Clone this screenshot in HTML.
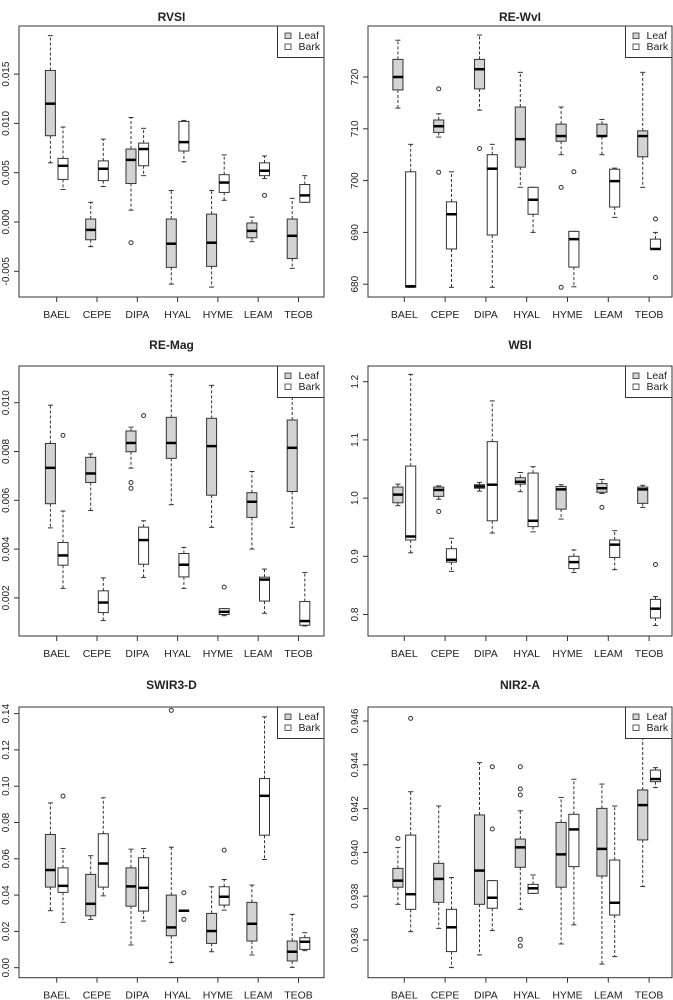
<!DOCTYPE html>
<html><head><meta charset="utf-8"><style>
body{margin:0;background:#fff;}
svg{display:block;font-family:"Liberation Sans",sans-serif;}
</style></head><body>
<svg id="chart" width="673" height="1000" viewBox="0 0 673 1000" xmlns="http://www.w3.org/2000/svg"></svg>
<script>
const categories = ["BAEL","CEPE","DIPA","HYAL","HYME","LEAM","TEOB"];
// each stat: [low whisker, Q1, median, Q3, high whisker]
const rvsiLeaf = [[0.006,0.00875,0.012,0.01537,0.0189],[-0.0025,-0.0018,-0.0008,0.0003,0.002],[0.0012,0.0039,0.0063,0.0074,0.0106],[-0.0063,-0.0046,-0.0022,0.0003,0.0032],[-0.0066,-0.0045,-0.0021,0.0008,0.0032],[-0.002,-0.0016,-0.0009,-0.0001,0.0005],[-0.0047,-0.0037,-0.0014,0.0003,0.0024]];
const rvsiBark = [[0.0033,0.00432,0.0057,0.00645,0.00963],[0.0036,0.0042,0.0054,0.0062,0.0084],[0.0047,0.0057,0.0074,0.008,0.0095],[0.0061,0.0072,0.0081,0.0102,0.0103],[0.0022,0.003,0.004,0.0048,0.0068],[0.0044,0.0047,0.0052,0.006,0.0067],[0.002,0.002,0.0027,0.0038,0.0047]];
const rvsiLeafOut = [[],[],[-0.0021],[],[],[],[]];
const rvsiBarkOut = [[],[],[],[],[],[0.0027],[]];
const rvsiTicks = [-0.005,0,0.005,0.010,0.015];
const rvsiTickLabels = ["-0.005","0.000","0.005","0.010","0.015"];

const wviLeaf = [[714,717.5,720,723.4,727.1],[708.4,709.3,710.5,711.7,712.9],[713.6,717.7,721.5,723.4,728.1],[698.7,702.6,708,714.2,720.9],[705,707.6,708.6,710.9,714.2],[705,708.5,708.6,710.9,711.8],[698.7,704.6,708.6,709.6,720.9]];
const wviBark = [[679.4,679.4,679.6,701.7,707],[679.4,686.8,693.5,695.9,701.7],[679.4,689.5,702.3,705,707],[690,693.5,696.3,698.7,698.7],[679.5,683.3,688.7,690.2,690.2],[692.9,694.9,699.9,702.2,702.4],[686.8,686.8,686.8,688.7,690]];
const wviLeafOut = [[],[717.7,701.6],[706.2],[],[698.7,679.4],[],[]];
const wviBarkOut = [[],[],[],[],[701.7],[],[692.6,681.3]];
const wviTicks = [680,690,700,710,720];
const wviTickLabels = ["680","690","700","710","720"];

const magLeaf = [[0.00487,0.00586,0.00733,0.00833,0.0099],[0.00558,0.00673,0.0071,0.00776,0.0079],[0.00732,0.00799,0.00835,0.00884,0.009],[0.00582,0.00772,0.00835,0.0094,0.01116],[0.00489,0.00621,0.00822,0.00936,0.01071],[0.004,0.0053,0.00594,0.00631,0.00718],[0.00489,0.00636,0.00815,0.00929,0.0108]];
const magBark = [[0.00239,0.00334,0.00374,0.00427,0.00556],[0.00107,0.0014,0.00181,0.00229,0.00282],[0.00284,0.00338,0.00437,0.0049,0.00516],[0.00239,0.00286,0.00336,0.00382,0.00407],[0.00127,0.00132,0.00143,0.00156,0.00156],[0.00137,0.00187,0.00275,0.00285,0.00318],[0.00085,0.00088,0.00105,0.00185,0.00304]];
const magLeafOut = [[],[],[0.00673,0.00649],[],[],[],[]];
const magBarkOut = [[0.00866],[],[0.00947],[],[0.00244],[],[]];
const magTicks = [0.002,0.004,0.006,0.008,0.010];
const magTickLabels = ["0.002","0.004","0.006","0.008","0.010"];

const wbiLeaf = [[0.987,0.992,1.006,1.019,1.024],[0.998,1.003,1.014,1.019,1.021],[1.012,1.017,1.02,1.023,1.027],[1.011,1.024,1.028,1.035,1.044],[0.964,0.981,1.015,1.02,1.023],[1.008,1.01,1.017,1.025,1.032],[0.984,0.991,1.015,1.019,1.022]];
const wbiBark = [[0.906,0.928,0.934,1.055,1.2126],[0.874,0.89,0.894,0.913,0.931],[0.94,0.961,1.023,1.097,1.167],[0.942,0.951,0.961,1.043,1.054],[0.872,0.879,0.89,0.9,0.911],[0.877,0.898,0.92,0.928,0.944],[0.781,0.794,0.81,0.826,0.831]];
const wbiLeafOut = [[],[0.977],[],[],[],[0.984],[]];
const wbiBarkOut = [[],[],[],[],[],[],[0.886]];
const wbiTicks = [0.8,0.9,1.0,1.1,1.2];
const wbiTickLabels = ["0.8","0.9","1.0","1.1","1.2"];

const swirLeaf = [[0.0314,0.0444,0.0538,0.0734,0.0908],[0.0266,0.0286,0.0352,0.0514,0.0617],[0.0125,0.0339,0.0448,0.055,0.0653],[0.0028,0.0176,0.0222,0.04,0.0664],[0.0088,0.0134,0.0202,0.0299,0.0446],[0.007,0.0147,0.0242,0.036,0.0455],[0.0002,0.0037,0.0088,0.0147,0.0294]];
const swirBark = [[0.025,0.0415,0.0451,0.055,0.0657],[0.0396,0.0444,0.0574,0.0738,0.0936],[0.0257,0.0312,0.044,0.0606,0.0657],[0.0314,0.0314,0.0314,0.0314,0.0314],[0.0317,0.0345,0.0391,0.0446,0.0486],[0.0596,0.073,0.0947,0.1042,0.1382],[0.0094,0.0101,0.0143,0.0165,0.0193]];
const swirLeafOut = [[],[],[],[0.1418],[],[],[]];
const swirBarkOut = [[0.0945],[],[],[0.0413,0.0266],[0.0648],[],[]];
const swirTicks = [0,0.02,0.04,0.06,0.08,0.10,0.12,0.14];
const swirTickLabels = ["0.00","0.02","0.04","0.06","0.08","0.10","0.12","0.14"];

const nirLeaf = [[0.93763,0.93841,0.93871,0.93927,0.94022],[0.93653,0.93772,0.93879,0.9395,0.94212],[0.93532,0.93763,0.93917,0.94171,0.9441],[0.9374,0.93932,0.94023,0.94061,0.9419],[0.93582,0.93841,0.93991,0.94137,0.94251],[0.9349,0.93892,0.94016,0.94201,0.94312],[0.93844,0.94057,0.94216,0.94285,0.9455]];
const nirBark = [[0.93638,0.9374,0.93809,0.94079,0.94277],[0.93474,0.93547,0.93658,0.9374,0.93885],[0.93643,0.93745,0.93793,0.93871,0.93871],[0.93813,0.93813,0.93836,0.93854,0.93897],[0.93669,0.93935,0.94105,0.94174,0.94334],[0.93524,0.93714,0.9377,0.93965,0.94212],[0.94296,0.94323,0.94335,0.94376,0.94387]];
const nirLeafOut = [[0.94064],[],[],[0.94391,0.9429,0.94262,0.93603,0.93573],[],[],[]];
const nirBarkOut = [[0.94612],[],[0.94391,0.94107],[],[],[],[]];
const nirTicks = [0.936,0.938,0.940,0.942,0.944,0.946];
const nirTickLabels = ["0.936","0.938","0.940","0.942","0.944","0.946"];

const NS = "http://www.w3.org/2000/svg";
const svg = document.getElementById('chart');
function mk(tag, attrs, parent){const e=document.createElementNS(NS,tag);for(const k in attrs)e.setAttribute(k,attrs[k]);(parent||svg).appendChild(e);return e;}

const panels = [
 {slug:'rvsi',title:'RVSI',L:19,R:324,T:26,B:297,ty:17,x0:56.7,step:40.3,v0:0,y0:222,v1:0.005,y1:172.7,leaf:rvsiLeaf,bark:rvsiBark,lo:rvsiLeafOut,bo:rvsiBarkOut,ticks:rvsiTicks,tl:rvsiTickLabels},
 {slug:'re-wvi',title:'RE-WvI',L:368,R:672,T:26,B:297,ty:17,x0:404.3,step:40.8,v0:720,y0:77,v1:710,y1:128.8,leaf:wviLeaf,bark:wviBark,lo:wviLeafOut,bo:wviBarkOut,ticks:wviTicks,tl:wviTickLabels},
 {slug:'re-mag',title:'RE-Mag',L:19,R:324,T:366,B:636,ty:345,x0:56.7,step:40.3,v0:0.010,y0:402.7,v1:0.008,y1:451.5,leaf:magLeaf,bark:magBark,lo:magLeafOut,bo:magBarkOut,ticks:magTicks,tl:magTickLabels},
 {slug:'wbi',title:'WBI',L:368,R:672,T:366,B:636,ty:345,x0:404.3,step:40.8,v0:1.2,y0:381.7,v1:1.1,y1:439.9,leaf:wbiLeaf,bark:wbiBark,lo:wbiLeafOut,bo:wbiBarkOut,ticks:wbiTicks,tl:wbiTickLabels},
 {slug:'swir3-d',title:'SWIR3-D',L:19,R:324,T:707,B:977.7,ty:685,x0:56.7,step:40.3,v0:0,y0:967.7,v1:0.02,y1:931.4,leaf:swirLeaf,bark:swirBark,lo:swirLeafOut,bo:swirBarkOut,ticks:swirTicks,tl:swirTickLabels},
 {slug:'nir2-a',title:'NIR2-A',L:368,R:672,T:707,B:977.7,ty:685,x0:404.3,step:40.8,v0:0.946,y0:721,v1:0.944,y1:764.8,leaf:nirLeaf,bark:nirBark,lo:nirLeafOut,bo:nirBarkOut,ticks:nirTicks,tl:nirTickLabels}
];

const stroke="#333";
panels.forEach(p=>{
  const g=mk('g',{});
  
  
  const yS=v=>p.y0+(v-p.v0)*(p.y1-p.y0)/(p.v1-p.v0);
  const xS=i=>p.x0+i*p.step;
  const hw=5*p.step/40.3;
  const off=6.3*p.step/40.3;
  const t=mk('text',{x:(p.L+p.R)/2,y:p.ty+4,'text-anchor':'middle','font-size':'12','font-weight':'bold',fill:'#222'},g);
  t.textContent=p.title;
  
  
  function drawBox(s,cx,fill,kind,i){
    const bg=mk('g',{},g);
    
    
    const [lo,q1,md,q3,hi]=s.map(yS);
    mk('line',{x1:cx,x2:cx,y1:q3,y2:hi,stroke:stroke,'stroke-width':1,'stroke-dasharray':'3,2'},bg);
    mk('line',{x1:cx,x2:cx,y1:q1,y2:lo,stroke:stroke,'stroke-width':1,'stroke-dasharray':'3,2'},bg);
    mk('line',{x1:cx-hw/2,x2:cx+hw/2,y1:hi,y2:hi,stroke:stroke,'stroke-width':1},bg);
    mk('line',{x1:cx-hw/2,x2:cx+hw/2,y1:lo,y2:lo,stroke:stroke,'stroke-width':1},bg);
    mk('rect',{x:cx-hw,y:q3,width:2*hw,height:Math.max(q1-q3,0.5),fill:fill,stroke:stroke,'stroke-width':1},bg);
    mk('line',{x1:cx-hw,x2:cx+hw,y1:md,y2:md,stroke:'#000','stroke-width':2.5},bg);
  }
  function drawOut(arr,cx,kind){
    arr.forEach(v=>{
      const c=mk('circle',{cx:cx,cy:yS(v),r:2,fill:'none',stroke:stroke,'stroke-width':1},g);
      
      
    });
  }
  categories.forEach((c,i)=>{
    drawBox(p.leaf[i],xS(i)-off,'#d3d3d3','leaf',i);
    drawBox(p.bark[i],xS(i)+off,'#fff','bark',i);
    drawOut(p.lo[i],xS(i)-off,'leaf');
    drawOut(p.bo[i],xS(i)+off,'bark');
    mk('line',{x1:xS(i),x2:xS(i),y1:p.B,y2:p.B+5,stroke:stroke,'stroke-width':1},g);
    const xl=mk('text',{x:xS(i),y:p.B+21,'text-anchor':'middle','font-size':'10.5',fill:'#222'},g);
    xl.textContent=c;
    
    
  });
  p.ticks.forEach((v,k)=>{
    const y=yS(v);
    mk('line',{x1:p.L-5,x2:p.L,y1:y,y2:y,stroke:stroke,'stroke-width':1},g);
    const lx=p.L-10;
    const yl=mk('text',{x:lx,y:y,'text-anchor':'middle','font-size':'10',fill:'#222',transform:'rotate(-90 '+lx+' '+y+')'},g);
    yl.textContent=p.tl[k];
    
    
  });
  const fr=mk('rect',{x:p.L,y:p.T,width:p.R-p.L,height:p.B-p.T,fill:'none',stroke:stroke,'stroke-width':1},g);
  
  
  const lg=mk('g',{},g);
  
  
  const lx0=p.R-46.5;
  mk('rect',{x:lx0,y:p.T,width:46.5,height:31.5,fill:'#fff',stroke:stroke,'stroke-width':1},lg);
  [['Leaf','#d3d3d3',10],['Bark','#fff',21]].forEach(e=>{
    mk('rect',{x:lx0+7.5,y:p.T+e[2]-3,width:6,height:5.5,fill:e[1],stroke:stroke,'stroke-width':0.8},lg);
    const tx=mk('text',{x:lx0+21,y:p.T+e[2]+3,'font-size':'10.5',fill:'#222'},lg);
    tx.textContent=e[0];
    
    
  });
});
</script>
</body></html>
